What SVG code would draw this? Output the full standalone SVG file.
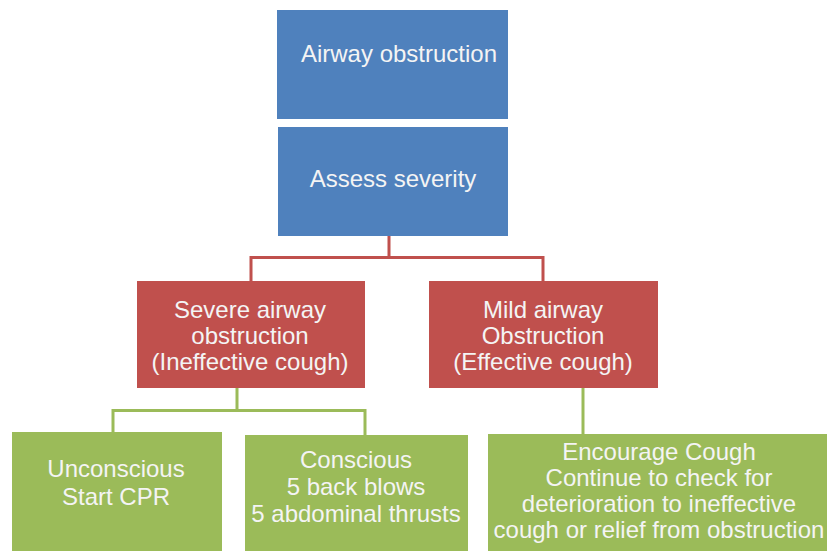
<svg xmlns="http://www.w3.org/2000/svg" width="827" height="551" viewBox="0 0 827 551">
<style>
.blue{fill:#4F81BD}
.red{fill:#C0504D}
.green{fill:#9BBB59}
text{font-family:"Liberation Sans",Arial,sans-serif;font-size:24px;fill:#F4F4F4;text-anchor:middle}
.lr{stroke:#C0504D;stroke-width:3;fill:none}
.lg{stroke:#9BBB59;stroke-width:3;fill:none}
</style>
<rect width="827" height="551" fill="#FFFFFF"/>
<g id="connectors">
<path class="lr" d="M389 236 V257.5 M251 281 V257.5 H543 V281"/>
<path class="lg" d="M237 388 V410.5 M113 432 V410.5 H365 V435"/>
<path class="lg" d="M583 388 V434"/>
</g>
<g id="airway-obstruction">
<rect class="blue" x="277" y="10" width="231" height="109"/>
<text x="399" y="62">Airway obstruction</text>
</g>
<g id="assess-severity">
<rect class="blue" x="278" y="127" width="230" height="109"/>
<text x="393" y="187">Assess severity</text>
</g>
<g id="severe">
<rect class="red" x="137" y="281" width="228" height="107"/>
<text x="250" y="318">Severe airway</text>
<text x="250" y="344">obstruction</text>
<text x="250" y="370">(Ineffective cough)</text>
</g>
<g id="mild">
<rect class="red" x="429" y="281" width="229" height="107"/>
<text x="543" y="318">Mild airway</text>
<text x="543" y="344">Obstruction</text>
<text x="543" y="370">(Effective cough)</text>
</g>
<g id="unconscious">
<rect class="green" x="12" y="432" width="210" height="125"/>
<text x="116" y="477">Unconscious</text>
<text x="116" y="505">Start CPR</text>
</g>
<g id="conscious">
<rect class="green" x="245" y="435" width="223" height="122"/>
<text x="356" y="468">Conscious</text>
<text x="356" y="495">5 back blows</text>
<text x="356" y="522">5 abdominal thrusts</text>
</g>
<g id="encourage">
<rect class="green" x="488" y="434" width="345" height="123"/>
<text x="659" y="460">Encourage Cough</text>
<text x="659" y="486">Continue to check for</text>
<text x="659" y="512">deterioration to ineffective</text>
<text x="659" y="538">cough or relief from obstruction</text>
</g>
</svg>
